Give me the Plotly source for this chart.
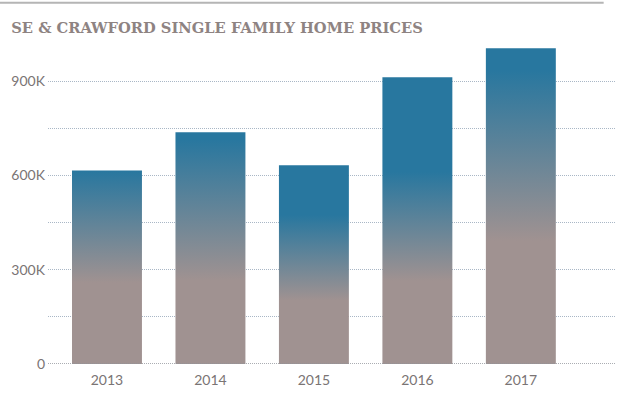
import plotly.graph_objects as go

years = [2013, 2014, 2015, 2016, 2017]
prices = [616000, 737000, 632000, 912000, 1005000]
y_ticks = [0, 300000, 600000, 900000]
y_labels = ["0", "300K", "600K", "900K"]

# where the blend between mauve (bottom) and blue (top) happens, fraction of bar height
blend = [(0.42, 1.0), (0.36, 0.97), (0.32, 0.75), (0.29, 0.67), (0.39, 0.93)]

BLUE = "#28779f"
MAUVE = "#a09291"
half = 0.338

fig = go.Figure()
for yr, p, (lo, hi) in zip(years, prices, blend):
    fig.add_trace(go.Scatter(
        x=[yr - half, yr - half, yr + half, yr + half, yr - half],
        y=[0, p, p, 0, 0],
        mode="lines",
        fill="toself",
        line=dict(width=0),
        fillgradient=dict(
            type="vertical",
            start=0,
            stop=p,
            colorscale=[[0, MAUVE], [lo, MAUVE], [hi, BLUE], [1, BLUE]],
        ),
        hoverinfo="skip",
        showlegend=False,
    ))

fig.update_layout(
    width=624,
    height=403,
    margin=dict(l=48, r=9, t=34, b=39),
    paper_bgcolor="white",
    plot_bgcolor="white",
    title=dict(
        text="SE & CRAWFORD SINGLE FAMILY HOME PRICES",
        x=0.018, xanchor="left", y=0.93, yanchor="middle",
        font=dict(family="DejaVu Serif", size=14.7, color="#8e8382", weight="bold"),
    ),
    xaxis=dict(
        range=[2012.43, 2017.91],
        tickvals=years,
        ticktext=[str(y) for y in years],
        showgrid=False,
        zeroline=False,
        showline=False,
        ticks="",
        tickfont=dict(family="Lato", size=14, color="#7a7474"),
        ticklabelstandoff=6,
    ),
    yaxis=dict(
        range=[0, 1050000],
        tickvals=y_ticks,
        ticktext=y_labels,
        showgrid=True,
        gridcolor="#a9b7c6",
        griddash="1px,1px",
        gridwidth=1,
        zeroline=False,
        showline=False,
        ticks="",
        tickfont=dict(family="Lato", size=14, color="#7a7474"),
        ticklabelstandoff=2,
        minor=dict(dtick=150000, showgrid=True, gridcolor="#a9b7c6",
                   griddash="1px,1px", gridwidth=1),
    ),
    shapes=[
        dict(type="line", xref="paper", yref="paper", x0=-0.085, x1=0.98,
             y0=1.095, y1=1.095, line=dict(color="#b5b5b5", width=2)),
        dict(type="line", xref="paper", yref="y", x0=0, x1=1, y0=0, y1=0,
             line=dict(color="#8f9399", width=1.5, dash="1px,1px"), layer="above"),
    ],
)

fig.write_html("out.html", config={"displayModeBar": False},
               post_script="document.body.style.margin='0';")
